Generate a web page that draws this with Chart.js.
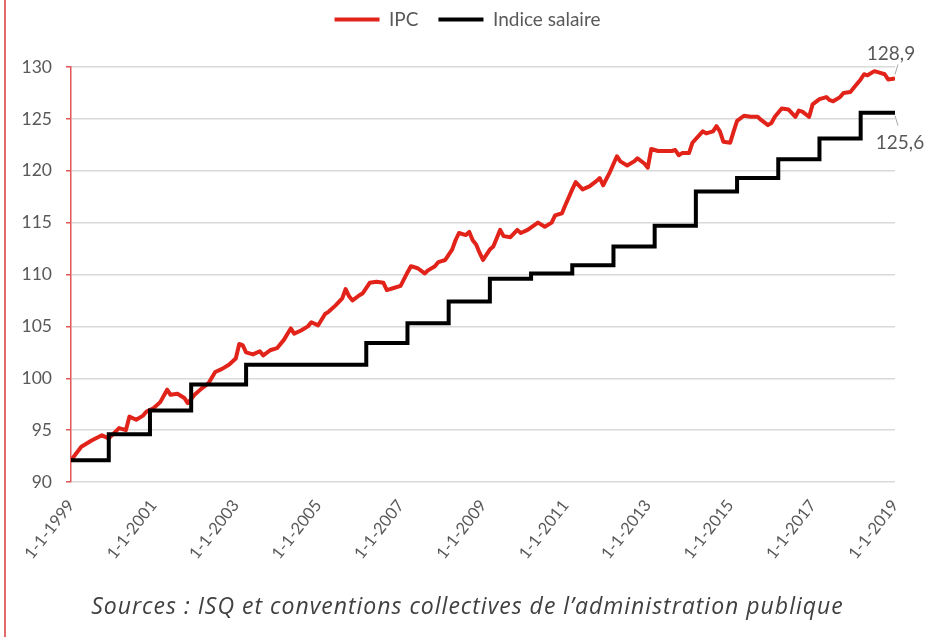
<!DOCTYPE html>
<html>
<head>
<meta charset="utf-8">
<script src="https://cdn.jsdelivr.net/npm/chart.js@4.4.1/dist/chart.umd.min.js"></script>
<style>
  html, body { margin: 0; padding: 0; background: #fff; }
  #wrap { position: relative; width: 935px; height: 637px; overflow: hidden; }
  #chart { position: absolute; left: 0; top: 0; }
  #frame { position: absolute; left: 4px; top: 0; width: 2px; height: 637px; background: #e36b6b; }
  #source { position: absolute; left: 0; top: 589px; width: 935px; text-align: center;
            font: italic 23px "Open Sans", sans-serif; letter-spacing: 1px; color: #404040; }
</style>
</head>
<body>
<div id="wrap">
  <canvas id="chart" width="935" height="637"></canvas>
  <div id="frame"></div>
  <div id="source">Sources : ISQ et conventions collectives de l’administration publique</div>
</div>
<script>
// x axis = months since 1-1-1999
const tickLabels = ['1-1-1999','1-1-2001','1-1-2003','1-1-2005','1-1-2007','1-1-2009',
                    '1-1-2011','1-1-2013','1-1-2015','1-1-2017','1-1-2019']

// IPC
const ipcMonths = [
  0, 3, 6, 9, 11,
  14, 16, 17, 19, 21, 22,
  24, 26, 28, 29, 31, 33, 34,
  36, 38, 40, 42, 44, 46,
  48, 49, 50, 51, 53, 55, 56, 58,
  60, 62, 64, 65, 67, 69, 70,
  72, 74, 75, 77, 79, 80, 81, 82,
  84, 85, 87, 89, 91, 92, 94,
  96, 98, 99, 101, 103, 104, 106, 107,
  109, 111, 112, 113, 115, 116, 117, 118, 119,
  120, 122, 123, 124, 125, 126, 128, 130, 131,
  133, 136, 138, 140, 141, 143,
  144, 146, 147, 149, 151, 153, 154, 155,
  157, 159, 160, 162, 164, 165, 167,
  168, 169, 171, 175, 176, 177, 178,
  180, 181, 184, 185, 187, 188, 189, 190,
  192, 193, 194, 196, 198, 200, 201, 203,
  204, 205, 207, 209, 211, 212, 213, 215,
  216, 218, 220, 221, 222, 224, 225, 227,
  228, 230, 231, 232, 234, 235, 237, 238, 240
]
const ipcValues = [
  92.1, 93.4, 94.0, 94.5, 94.2,
  95.2, 95.0, 96.3, 96.0, 96.4, 96.8,
  97.1, 97.7, 98.9, 98.4, 98.5, 98.1, 97.6,
  98.4, 99.0, 99.5, 100.6, 100.9, 101.3,
  101.9, 103.3, 103.2, 102.5, 102.3, 102.6, 102.2, 102.7,
  102.9, 103.7, 104.8, 104.3, 104.6, 105.0, 105.4,
  105.1, 106.2, 106.4, 107.0, 107.7, 108.6, 107.9, 107.5,
  108.0, 108.2, 109.2, 109.3, 109.2, 108.5, 108.7,
  108.9, 110.2, 110.8, 110.6, 110.1, 110.4, 110.8, 111.2,
  111.4, 112.4, 113.3, 114.0, 113.8, 114.1, 113.3, 112.9, 112.1,
  111.4, 112.4, 112.7, 113.5, 114.3, 113.7, 113.6, 114.3, 114.0,
  114.3, 115.0, 114.6, 115.0, 115.7, 115.9,
  116.7, 118.2, 118.9, 118.2, 118.5, 119.0, 119.3, 118.6,
  119.9, 121.4, 120.9, 120.5, 120.9, 121.2, 120.7,
  120.3, 122.1, 121.9, 121.9, 122.0, 121.5, 121.7,
  121.7, 122.7, 123.8, 123.6, 123.8, 124.3, 123.8, 122.8,
  122.7, 123.8, 124.8, 125.3, 125.2, 125.2, 124.9, 124.4,
  124.6, 125.2, 126.0, 125.9, 125.2, 125.8, 125.7, 125.2,
  126.4, 126.9, 127.1, 126.8, 126.7, 127.1, 127.5, 127.6,
  128.0, 128.8, 129.3, 129.2, 129.6, 129.5, 129.3, 128.8, 128.9
]

// Indice salaire: month where each new level starts
const salaryMonths = [0, 11, 23, 35, 51, 86, 98, 110, 122, 134, 146, 158, 170, 182, 194, 206, 218, 230, 240]
const salaryValues = [92.1, 94.6, 96.9, 99.4, 101.3, 103.4, 105.3, 107.4, 109.6, 110.1, 110.9,
                      112.7, 114.7, 118.0, 119.3, 121.1, 123.1, 125.6, 125.6]

const yTicks = [90, 95, 100, 105, 110, 115, 120, 125, 130]

const RED = '#e2231a'
const GREY_TXT = '#595959'

function fmt(v) { return v.toFixed(1).replace('.', ',') }

// legend: taller box (gap above plot) and centred on the whole canvas
const legendSpacer = {
  id: 'legendSpacer',
  beforeLayout(chart) {
    const lg = chart.legend
    if (lg && !lg._spaced) {
      const fit = lg.fit
      lg.fit = function () { fit.call(this); this.height = 77 }
      lg._spaced = true
    }
  },
  afterLayout(chart) {
    const lg = chart.legend
    if (lg) { lg.left = 0; lg.right = chart.width; lg.width = chart.width }
  }
}

// last values with small leader lines
const endLabels = {
  id: 'endLabels',
  afterDatasetsDraw(chart) {
    const ctx = chart.ctx
    const sal = chart.getDatasetMeta(0).data
    const ipc = chart.getDatasetMeta(1).data
    const p = ipc[ipc.length - 1]
    const q = sal[sal.length - 1]
    ctx.save()
    ctx.strokeStyle = '#a6a6a6'
    ctx.lineWidth = 1
    ctx.beginPath()
    ctx.moveTo(p.x, p.y - 4); ctx.lineTo(p.x + 3, p.y - 14)
    ctx.moveTo(q.x, q.y + 3); ctx.lineTo(q.x + 3, q.y + 13)
    ctx.stroke()
    ctx.font = '19px Lato'
    ctx.fillStyle = GREY_TXT
    ctx.textAlign = 'center'
    ctx.textBaseline = 'middle'
    ctx.fillText(fmt(ipcValues[ipcValues.length - 1]), p.x - 4, p.y - 25)
    ctx.fillText(fmt(salaryValues[salaryValues.length - 1]), q.x + 5, q.y + 30)
    ctx.restore()
  }
}

let ctx = document.getElementById('chart').getContext('2d')
new Chart(ctx, {
  type: 'line',
  data: {
    datasets: [{
      label: 'Indice salaire',
      data: salaryMonths.map((m, i) => ({ x: m, y: salaryValues[i] })),
      borderColor: '#000',
      backgroundColor: '#000',
      borderWidth: 4,
      stepped: true,
      pointRadius: 0,
      borderJoinStyle: 'miter'
    }, {
      label: 'IPC',
      data: ipcMonths.map((m, i) => ({ x: m, y: ipcValues[i] })),
      borderColor: RED,
      backgroundColor: RED,
      borderWidth: 4,
      tension: 0,
      pointRadius: 0,
      borderJoinStyle: 'round'
    }]
  },
  options: {
    responsive: false,
    animation: false,
    layout: { padding: { left: 0, right: 40, top: -10, bottom: 0 } },
    plugins: {
      legend: {
        reverse: true,
        labels: {
          usePointStyle: true,
          pointStyle: 'line',
          pointStyleWidth: 45,
          padding: 20,
          color: GREY_TXT,
          font: { family: 'Lato', size: 19 }
        }
      },
      tooltip: { enabled: false }
    },
    scales: {
      x: {
        type: 'linear',
        min: 0,
        max: 240,
        grid: { display: false },
        border: { display: false },
        afterFit: (s) => { s.height = 637 - 482 },
        ticks: {
          stepSize: 24,
          autoSkip: false,
          minRotation: 52,
          maxRotation: 52,
          padding: 6,
          color: GREY_TXT,
          font: { family: 'Lato', size: 16.5 },
          callback: (v) => tickLabels[v / 24]
        }
      },
      y: {
        min: 90,
        max: 130,
        afterFit: (s) => { s.width = 71 },
        afterBuildTicks: (s) => { s.ticks = yTicks.map(v => ({ value: v })) },
        border: { color: '#e05555', width: 1.5 },
        grid: { color: '#d9d9d9', lineWidth: 1.5, tickLength: 5, tickColor: '#e05555' },
        ticks: {
          padding: 14,
          color: GREY_TXT,
          font: { family: 'Lato', size: 17.5 }
        }
      }
    }
  },
  plugins: [legendSpacer, endLabels]
})
</script>
</body>
</html>
